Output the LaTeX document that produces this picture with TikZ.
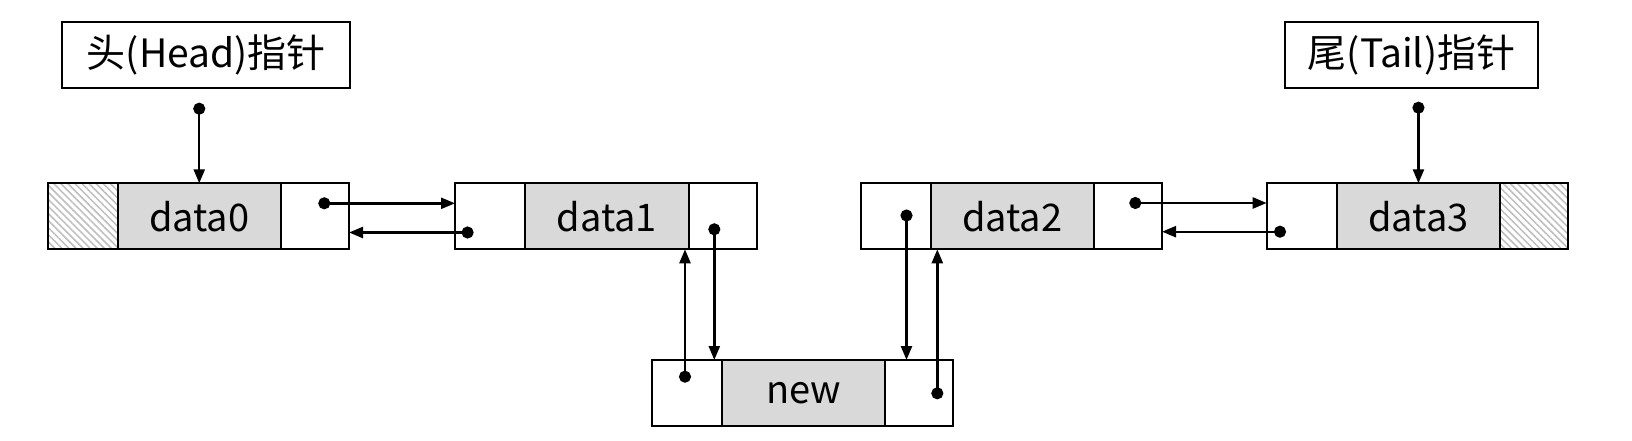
\documentclass[tikz,border=0pt]{standalone}
\usepackage{fontspec}
\setmainfont{Noto Sans CJK SC}
\usetikzlibrary{arrows.meta,patterns.meta}
\definecolor{cellgray}{HTML}{D9D9D9}
\definecolor{hatchgray}{HTML}{BDBDBD}
\begin{document}
\begin{tikzpicture}[x=1pt,y=-1pt,
  cell/.style={draw, line width=2pt, minimum height=66pt, inner sep=0pt, outer sep=0pt,
    anchor=north west, font=\fontsize{38}{44}\selectfont},
  ptrcell/.style={cell, minimum width=70pt},
  nxtcell/.style={cell, minimum width=68pt},
  datacell/.style={cell, minimum width=163.5pt, fill=cellgray},
  nullcell/.style={pattern={Lines[angle=-45,distance=5pt,line width=1.5pt]}, pattern color=hatchgray},
  label/.style={cell, font=\fontsize{39}{44}\selectfont},
  ptr/.style={line width=2.4pt, {Circle[length=12pt]}-{Triangle[length=14pt,width=11pt]}}
  ]
\useasboundingbox (0,0) rectangle (1632,441);
% data0
\node[ptrcell,nullcell] (d0p) at (47.5,183.3) {};
\node[ptrcell] at (47.5,183.3) {};
\node[datacell] (d0d) at (d0p.north east) {data0};
\node[nxtcell] (d0n) at (d0d.north east) {};
% data1
\node[ptrcell] (d1p) at (455,183.3) {};
\node[datacell] (d1d) at (d1p.north east) {data1};
\node[nxtcell] (d1n) at (d1d.north east) {};
% data2
\node[ptrcell] (d2p) at (860.5,183.3) {};
\node[datacell] (d2d) at (d2p.north east) {data2};
\node[nxtcell] (d2n) at (d2d.north east) {};
% data3
\node[ptrcell] (d3p) at (1266.7,183.3) {};
\node[datacell] (d3d) at (d3p.north east) {data3};
\node[nxtcell,nullcell] (d3n) at (d3d.north east) {};
\node[nxtcell] at (d3d.north east) {};
% new
\node[ptrcell] (nwp) at (651.7,360) {};
\node[datacell] (nwd) at (nwp.north east) {new};
\node[nxtcell] (nwn) at (nwd.north east) {};
% head / tail
\node[label, minimum width=288pt] (head) at (62.3,21.7) {头(Head)指针};
\node[label, minimum width=253pt] (tail) at (1285,21.7) {尾(Tail)指针};
% pointer origins
\coordinate (hd) at (d0d.north |- 0,102.7);
\coordinate (tl) at (d3d.north |- 0,101.7);
\coordinate (d0x) at (318.3,203.3);
\coordinate (d1y) at (473.6,232.5);
\coordinate (d1x) at (714.3,223.3);
\coordinate (nwy) at (685,382.7);
\coordinate (d2y) at (906.5,209.5);
\coordinate (nwx) at (937.3,399.3);
\coordinate (d2x) at (1129.3,203);
\coordinate (d3y) at (1286,231.7);
% connectors
\draw[ptr] (hd) -- (d0d.north);
\draw[ptr] (tl) -- (d3d.north);
\draw[ptr] (d0x) -- (d0x -| d1p.west);
\draw[ptr] (d1y) -- (d1y -| d0n.east);
\draw[ptr] (d1x) -- (d1x |- nwp.north);
\draw[ptr] (nwy) -- (nwy |- d1d.south);
\draw[ptr] (d2y) -- (d2y |- nwn.north);
\draw[ptr] (nwx) -- (nwx |- d2d.south);
\draw[ptr] (d2x) -- (d2x -| d3p.west);
\draw[ptr] (d3y) -- (d3y -| d2n.east);
\end{tikzpicture}
\end{document}
